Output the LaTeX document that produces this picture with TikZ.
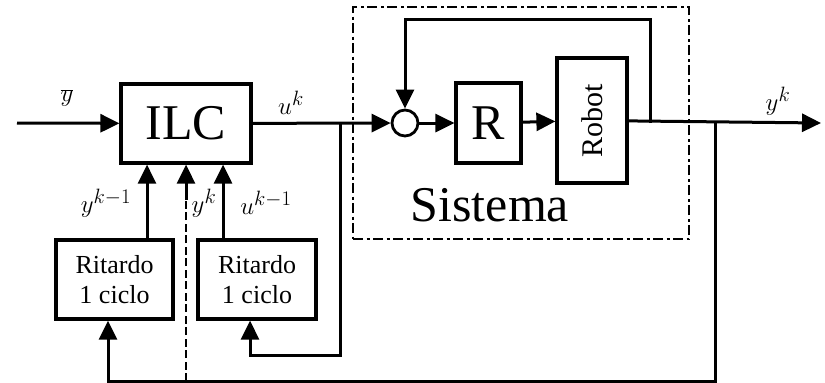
\documentclass[tikz,border=0pt]{standalone}
\usepackage{fontspec}
\setmainfont{Liberation Serif}
\usetikzlibrary{arrows.meta,positioning,calc}
\definecolor{BDInk}{HTML}{000000}
\definecolor{BDPaper}{HTML}{FFFFFF}
\tikzset{
  sig/.style={-{Triangle[length=19pt,width=18pt]},BDInk,line width=3pt},
  wire/.style={BDInk,line width=3pt},
  wiredash/.style={wire,line width=2.8pt,dash pattern=on 8pt off 3.5pt},
  block/.style={draw=BDInk,line width=3.2pt,fill=BDPaper,inner sep=0pt,align=center},
  bigblock/.style={block,font=\fontsize{50}{56}\selectfont},
  delayblock/.style={block,font=\fontsize{26}{30}\selectfont,minimum height=79,minimum width=117},
  sumnode/.style={circle,draw=BDInk,line width=2.8pt,fill=BDPaper,minimum size=26,inner sep=0pt},
  frame/.style={draw=BDInk,line width=2.8pt,dash pattern=on 10pt off 3.5pt on 3pt off 3.5pt},
  siglabel/.style={font=\fontsize{30}{34}\selectfont,inner sep=0pt},
  framelabel/.style={font=\fontsize{50}{56}\selectfont,inner sep=0pt},
}

\begin{document}
\begin{tikzpicture}[x=1pt,y=-1pt]
    \useasboundingbox (0,0) rectangle (825,383);

    % sistema frame
    \node[frame,minimum width=336,minimum height=232] (sistema) at (521,123) {};
    \node[framelabel] (sistemalbl) at (490,205) {Sistema};

    % blocks
    \node[bigblock,minimum width=130,minimum height=79] (ilc) at (186,123.5) {ILC};
    \node[sumnode] (sum) at (405,123) {};
    \node[bigblock,minimum width=65,minimum height=80] (reg) at (488.5,123) {R};
    \node[block,minimum width=70,minimum height=125] (robot) at (592,120.5)
      {\rotatebox{90}{\fontsize{30}{34}\selectfont Robot}};
    \node[delayblock] (delayy) at (114.5,279.5) {Ritardo\\1 ciclo};
    \node[delayblock,minimum width=118] (delayu) at (257,279.5) {Ritardo\\1 ciclo};

    % taps
    \coordinate (in) at (17,123);
    \coordinate (utap) at (340,123);
    \coordinate (fbtap) at (650,123);
    \coordinate (ytap) at (715,123);
    \coordinate (out) at (821,123);

    % forward path
    \draw[sig] (in) -- (ilc);
    \draw[sig] (ilc) -- (sum);
    \draw[sig] (sum) -- (reg);
    \draw[sig] (reg) -- (robot);
    \draw[sig] (robot) -- (out);
    \draw[sig] (fbtap) -- ++(0,-104) -| (sum);

    % delays
    \draw[sig] ([xshift=32.5pt]delayy.north) -- ([xshift=32.5pt]delayy.north |- ilc.south);
    \draw[sig] ([xshift=-34pt]delayu.north) -- ([xshift=-34pt]delayu.north |- ilc.south);
    \draw[sig] (utap) -- (340,355) -| ([xshift=-7pt]delayu.south);
    \draw[sig] (ytap) -- (715,381) -| ([xshift=-6.5pt]delayy.south);
    \draw[wiredash] (186,381) -- (186,200);
    \draw[sig] (186,200) -- (ilc.south);

    % labels
    \node[siglabel] (ybar) at (67,98) {$\overline{y}$};
    \node[siglabel] (uklbl) at (291,103) {$u^{k}$};
    \node[siglabel] (yklbl) at (778,101) {$y^{k}$};
    \node[siglabel] (ykm) at (106,203) {$y^{k-1}$};
    \node[siglabel] (ykd) at (204,203) {$y^{k}$};
    \node[siglabel] (ukm) at (266,203) {$u^{k-1}$};
\end{tikzpicture}
\end{document}
